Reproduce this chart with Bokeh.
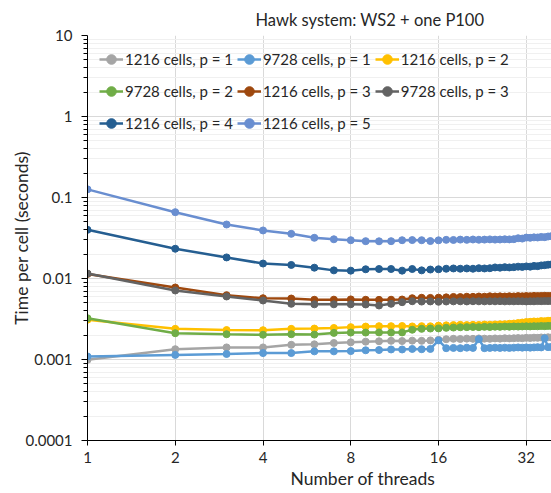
from bokeh.plotting import figure
from bokeh.models import (FixedTicker, CustomJSTickFormatter, Legend, LegendItem, Title)
from bokeh.embed import file_html
from bokeh.resources import INLINE

# Thread counts used in the benchmark runs
threads = list(range(1, 41))

# Time per cell (seconds) for each mesh size / polynomial order
t_1216_p1 = [0.00099, 0.00134, 0.00141, 0.00141, 0.00152, 0.00154, 0.00160, 0.00163, 0.00166, 0.00168,
             0.00170, 0.00169, 0.00171, 0.00170, 0.00172, 0.00175, 0.00178, 0.00180, 0.00179, 0.00181,
             0.00180, 0.00182, 0.00181, 0.00180, 0.00182, 0.00181, 0.00183, 0.00182, 0.00183, 0.00184,
             0.00183, 0.00185, 0.00184, 0.00186, 0.00185, 0.00187, 0.00186, 0.00188, 0.00187, 0.00188]
t_9728_p1 = [0.00109, 0.00114, 0.00117, 0.00120, 0.00120, 0.00126, 0.00126, 0.00127, 0.00130, 0.00131,
             0.00133, 0.00133, 0.00135, 0.00134, 0.00135, 0.00172, 0.00138, 0.00139, 0.00138, 0.00140,
             0.00139, 0.00178, 0.00138, 0.00139, 0.00140, 0.00139, 0.00140, 0.00139, 0.00140, 0.00141,
             0.00140, 0.00141, 0.00140, 0.00141, 0.00142, 0.00141, 0.00183, 0.00142, 0.00143, 0.00142]
t_1216_p2 = [0.00310, 0.00239, 0.00231, 0.00230, 0.00239, 0.00241, 0.00245, 0.00251, 0.00255, 0.00258,
             0.00258, 0.00259, 0.00256, 0.00258, 0.00257, 0.00262, 0.00264, 0.00266, 0.00268, 0.00266,
             0.00268, 0.00267, 0.00270, 0.00269, 0.00271, 0.00272, 0.00273, 0.00276, 0.00278, 0.00282,
             0.00286, 0.00290, 0.00292, 0.00295, 0.00294, 0.00298, 0.00297, 0.00301, 0.00302, 0.00304]
t_9728_p2 = [0.00323, 0.00211, 0.00205, 0.00202, 0.00205, 0.00203, 0.00213, 0.00215, 0.00215, 0.00216,
             0.00215, 0.00216, 0.00233, 0.00239, 0.00241, 0.00242, 0.00246, 0.00248, 0.00250, 0.00251,
             0.00252, 0.00251, 0.00253, 0.00252, 0.00254, 0.00253, 0.00255, 0.00254, 0.00256, 0.00255,
             0.00256, 0.00257, 0.00256, 0.00258, 0.00257, 0.00259, 0.00258, 0.00260, 0.00259, 0.00260]
t_1216_p3 = [0.0114, 0.00774, 0.00622, 0.00571, 0.00566, 0.00546, 0.00548, 0.00552, 0.00546, 0.00545,
             0.00547, 0.00550, 0.00571, 0.00578, 0.00576, 0.00580, 0.00585, 0.00592, 0.00590, 0.00596,
             0.00594, 0.00599, 0.00596, 0.00603, 0.00600, 0.00602, 0.00599, 0.00604, 0.00601, 0.00606,
             0.00603, 0.00608, 0.00605, 0.00610, 0.00607, 0.00609, 0.00611, 0.00608, 0.00610, 0.00612]
t_9728_p3 = [0.0115, 0.00711, 0.00600, 0.00535, 0.00487, 0.00480, 0.00480, 0.00481, 0.00478, 0.00464,
             0.00487, 0.00510, 0.00524, 0.00519, 0.00521, 0.00516, 0.00520, 0.00522, 0.00523, 0.00521,
             0.00524, 0.00523, 0.00522, 0.00524, 0.00523, 0.00525, 0.00522, 0.00524, 0.00523, 0.00525,
             0.00524, 0.00521, 0.00524, 0.00523, 0.00526, 0.00525, 0.00527, 0.00526, 0.00528, 0.00529]
t_1216_p4 = [0.0399, 0.0233, 0.0182, 0.0153, 0.0147, 0.0136, 0.0126, 0.0125, 0.0130, 0.0131,
             0.0131, 0.0125, 0.0131, 0.0126, 0.0129, 0.0130, 0.0132, 0.0133, 0.0132, 0.0133,
             0.0132, 0.0134, 0.0133, 0.0134, 0.0137, 0.0136, 0.0138, 0.0137, 0.0138, 0.0140,
             0.0139, 0.0141, 0.0140, 0.0143, 0.0142, 0.0145, 0.0146, 0.0148, 0.0149, 0.0150]
t_1216_p5 = [0.126, 0.0659, 0.0464, 0.0392, 0.0356, 0.0318, 0.0305, 0.0297, 0.0289, 0.0288,
             0.0289, 0.0297, 0.0298, 0.0297, 0.0290, 0.0296, 0.0300, 0.0299, 0.0302, 0.0300,
             0.0303, 0.0301, 0.0302, 0.0304, 0.0302, 0.0303, 0.0305, 0.0304, 0.0306, 0.0314,
             0.0311, 0.0320, 0.0318, 0.0322, 0.0321, 0.0326, 0.0324, 0.0330, 0.0333, 0.0336]

series_labels = ["1216 cells, p = 1", "9728 cells, p = 1", "1216 cells, p = 2",
                 "9728 cells, p = 2", "1216 cells, p = 3", "9728 cells, p = 3",
                 "1216 cells, p = 4", "1216 cells, p = 5"]
series_values = [t_1216_p1, t_9728_p1, t_1216_p2, t_9728_p2,
                 t_1216_p3, t_9728_p3, t_1216_p4, t_1216_p5]
series_colors = ["#A5A5A5", "#5B9BD5", "#FFC000", "#70AD47",
                 "#9E480E", "#636363", "#255E91", "#698ED0"]

x_ticks = [1, 2, 4, 8, 16, 32]
y_ticks = [0.0001, 0.001, 0.01, 0.1, 1, 10]

FONT = "Lato"
TEXT = "#262626"

p = figure(width=551, height=493, x_axis_type="log", y_axis_type="log",
           x_range=(1, 39.05), y_range=(0.0001, 10),
           output_backend="svg", toolbar_location=None,
           min_border_left=87, min_border_right=0, min_border_top=35, min_border_bottom=53)
p.outline_line_color = None
p.background_fill_color = "white"

# Title
p.title.text = "Hawk system: WS2 + one P100"
p.title.align = "left"
p.title.offset = 168
p.title.standoff = 12
p.title.text_font = FONT
p.title.text_font_size = "16.5px"
p.title.text_font_style = "normal"
p.title.text_color = TEXT

# x axis: powers of two
p.xaxis.ticker = FixedTicker(ticks=x_ticks, minor_ticks=[])
p.xaxis.major_tick_out = 5
p.xaxis.major_tick_in = 0
p.xaxis.minor_tick_out = 0
p.xaxis.minor_tick_in = 0
p.xaxis.major_label_standoff = 6

# y axis: decades with minor ticks
y_minor = [m * 10.0 ** e for e in range(-4, 1) for m in range(2, 10)]
p.yaxis.ticker = FixedTicker(ticks=y_ticks, minor_ticks=y_minor)
p.yaxis.major_tick_out = 6
p.yaxis.major_tick_in = 0
p.yaxis.minor_tick_out = 4
p.yaxis.minor_tick_in = 0
p.yaxis.major_label_standoff = 9
p.yaxis.formatter = CustomJSTickFormatter(code="return String(Number(tick.toPrecision(3)));")
p.yaxis.axis_label = "Time per cell (seconds)"
p.yaxis.axis_label_standoff = -10

for ax in (p.xaxis, p.yaxis):
    ax.axis_line_color = "#000000"
    ax.major_tick_line_color = "#000000"
    ax.minor_tick_line_color = "#000000"
    ax.major_label_text_font = FONT
    ax.major_label_text_font_size = "15px"
    ax.major_label_text_color = TEXT
    ax.axis_label_text_font = FONT
    ax.axis_label_text_font_size = "17.5px"
    ax.axis_label_text_font_style = "normal"
    ax.axis_label_text_color = TEXT

# Grid lines
p.xgrid.ticker = FixedTicker(ticks=x_ticks, minor_ticks=[])
p.xgrid.grid_line_color = "#D9D9D9"
p.ygrid.ticker = FixedTicker(ticks=y_ticks, minor_ticks=y_minor)
p.ygrid.grid_line_color = "#D9D9D9"
p.ygrid.minor_grid_line_color = "#F0F0F0"

# x-axis title placed under the tick labels
xlabel = Title(text="Number of threads", align="left", offset=203, standoff=0,
               text_font=FONT, text_font_size="17.5px", text_font_style="normal",
               text_color=TEXT)
p.add_layout(xlabel, "below")

items = []
for label, vals, color in zip(series_labels, series_values, series_colors):
    lr = p.line(threads, vals, line_color=color, line_width=2.5)
    sr = p.scatter(threads, vals, marker="circle", size=7,
                   fill_color=color, line_color=color)
    items.append(LegendItem(label=label, renderers=[lr, sr]))

legend = Legend(items=items, orientation="horizontal", ncols=3,
                location=(12, 303), padding=0, margin=0, spacing=4,
                glyph_width=24, glyph_height=28, label_standoff=2,
                label_text_font=FONT, label_text_font_size="15px",
                label_text_color=TEXT,
                background_fill_alpha=0, border_line_alpha=0)
p.add_layout(legend, "center")

open("out.html", "w").write(file_html(p, INLINE))
